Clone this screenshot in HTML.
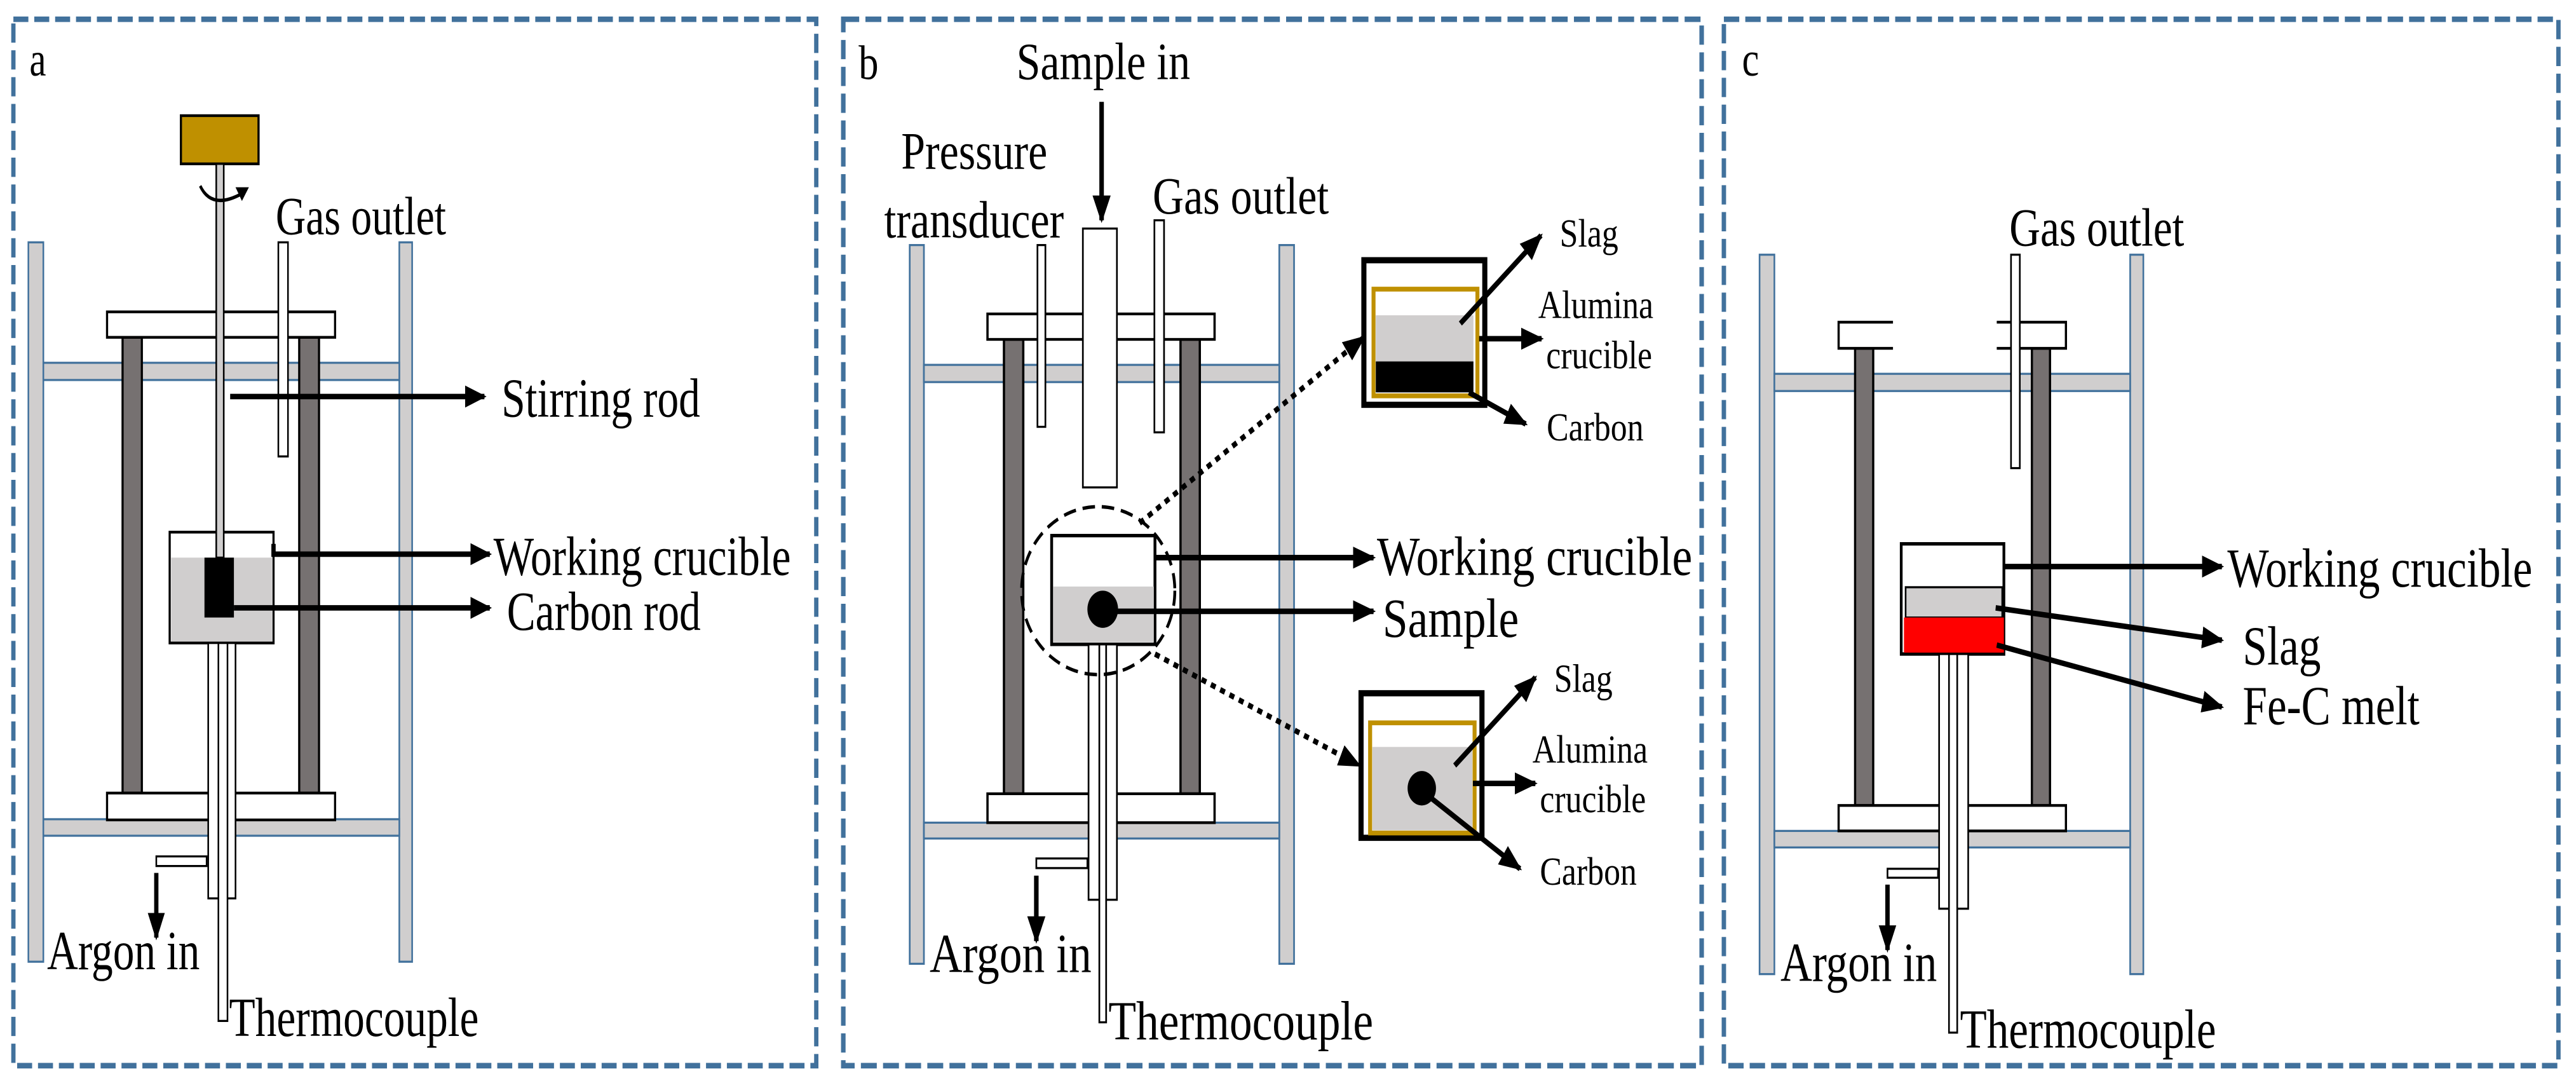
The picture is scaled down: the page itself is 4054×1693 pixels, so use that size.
<!DOCTYPE html>
<html><head><meta charset="utf-8"><style>
html,body{margin:0;padding:0;background:#fff;width:4054px;height:1693px;overflow:hidden}
svg{position:absolute;top:0;height:1693px}
text{font-family:"Liberation Serif",serif;fill:#000}
</style></head><body>

<!-- Panel a -->
<svg style="left:0;width:1320px" viewBox="0 0 1567 1563" preserveAspectRatio="none">
<defs><marker id="a1" markerUnits="userSpaceOnUse" markerWidth="40" markerHeight="40" refX="36" refY="20" orient="auto"><path d="M0,4 L40,20 L0,36 Z" fill="#000"/></marker></defs>
<rect x="25" y="28" width="1500" height="1520" fill="none" stroke="#41719c" stroke-width="8" stroke-dasharray="28,11"/>
<text x="55" y="110" font-size="70">a</text>
<rect x="53" y="352" width="28" height="1045" fill="#d0cece" stroke="#41719c" stroke-width="3"/>
<rect x="746" y="352" width="24" height="1045" fill="#d0cece" stroke="#41719c" stroke-width="3"/>
<rect x="81" y="527" width="665" height="25" fill="#d0cece" stroke="#41719c" stroke-width="3"/>
<rect x="81" y="1190" width="665" height="24" fill="#d0cece" stroke="#41719c" stroke-width="3"/>
<rect x="229" y="490" width="36" height="662" fill="#767171" stroke="#000" stroke-width="4"/>
<rect x="559" y="490" width="37" height="662" fill="#767171" stroke="#000" stroke-width="4"/>
<rect x="200" y="453" width="426" height="37" fill="#fff" stroke="#000" stroke-width="4"/>
<rect x="200" y="1152" width="426" height="39" fill="#fff" stroke="#000" stroke-width="4"/>
<rect x="520" y="352" width="18" height="311" fill="#fff" stroke="#000" stroke-width="3"/>
<rect x="338" y="168" width="145" height="70" fill="#bf9000" stroke="#000" stroke-width="4"/>
<rect x="317" y="773" width="194" height="161" fill="#fff" stroke="#000" stroke-width="4"/>
<rect x="320" y="810" width="188" height="122" fill="#d0cece"/>
<rect x="404" y="238" width="14" height="572" fill="#d0cece" stroke="#000" stroke-width="3"/>
<rect x="382" y="810" width="55" height="87" fill="#000"/>
<rect x="389" y="934" width="51" height="371" fill="#fff" stroke="#000" stroke-width="3"/>
<rect x="408" y="934" width="17" height="549" fill="#fff" stroke="#000" stroke-width="3"/>
<rect x="292" y="1244" width="94" height="14" fill="#fff" stroke="#000" stroke-width="3"/>
<path d="M374,270 Q395,305 450,282" fill="none" stroke="#000" stroke-width="5"/>
<path d="M440,272 L465,272 L452,292 Z" fill="#000"/>
<line x1="292" y1="1268" x2="292" y2="1362" stroke="#000" stroke-width="8" marker-end="url(#a1)"/>
<line x1="430" y1="576" x2="905" y2="576" stroke="#000" stroke-width="8" marker-end="url(#a1)"/>
<polyline points="511,790 511,805 915,805" fill="none" stroke="#000" stroke-width="8" marker-end="url(#a1)"/>
<line x1="437" y1="883" x2="915" y2="883" stroke="#000" stroke-width="8" marker-end="url(#a1)"/>
<text x="515" y="340" font-size="78">Gas outlet</text>
<text x="937" y="605" font-size="80">Stirring rod</text>
<text x="922" y="835" font-size="80">Working crucible</text>
<text x="947" y="915" font-size="80">Carbon rod</text>
<text x="88" y="1408" font-size="80">Argon in</text>
<text x="428" y="1505" font-size="80">Thermocouple</text>
</svg>

<!-- Panel b -->
<svg style="left:1320px;width:1400px" viewBox="0 0 1567 1563" preserveAspectRatio="none">
<defs><marker id="b1" markerUnits="userSpaceOnUse" markerWidth="40" markerHeight="40" refX="36" refY="20" orient="auto"><path d="M0,4 L40,20 L0,36 Z" fill="#000"/></marker></defs>
<rect x="8" y="28" width="1512" height="1520" fill="none" stroke="#41719c" stroke-width="8" stroke-dasharray="28,11"/>
<text x="35" y="115" font-size="70">b</text>
<rect x="125" y="356" width="25" height="1044" fill="#d0cece" stroke="#41719c" stroke-width="3"/>
<rect x="776" y="356" width="26" height="1044" fill="#d0cece" stroke="#41719c" stroke-width="3"/>
<rect x="150" y="530" width="626" height="25" fill="#d0cece" stroke="#41719c" stroke-width="3"/>
<rect x="150" y="1195" width="626" height="23" fill="#d0cece" stroke="#41719c" stroke-width="3"/>
<rect x="291" y="493" width="34" height="660" fill="#767171" stroke="#000" stroke-width="4"/>
<rect x="602" y="493" width="34" height="660" fill="#767171" stroke="#000" stroke-width="4"/>
<rect x="262" y="456" width="400" height="37" fill="#fff" stroke="#000" stroke-width="4"/>
<rect x="262" y="1153" width="400" height="42" fill="#fff" stroke="#000" stroke-width="4"/>
<rect x="350" y="356" width="14" height="264" fill="#fff" stroke="#000" stroke-width="3"/>
<rect x="430" y="332" width="60" height="376" fill="#fff" stroke="#000" stroke-width="3"/>
<rect x="556" y="320" width="17" height="308" fill="#fff" stroke="#000" stroke-width="3"/>
<rect x="375" y="778" width="182" height="158" fill="#fff" stroke="#000" stroke-width="5"/>
<rect x="378" y="852" width="177" height="81" fill="#d0cece"/>
<circle cx="465" cy="885" r="27" fill="#000"/>
<rect x="440" y="936" width="50" height="371" fill="#fff" stroke="#000" stroke-width="3"/>
<rect x="459" y="936" width="12" height="549" fill="#fff" stroke="#000" stroke-width="3"/>
<rect x="348" y="1247" width="90" height="14" fill="#fff" stroke="#000" stroke-width="3"/>
<ellipse cx="457" cy="858" rx="135" ry="122" fill="none" stroke="#000" stroke-width="5" stroke-dasharray="22,12"/>
<line x1="348" y1="1272" x2="348" y2="1367" stroke="#000" stroke-width="8" marker-end="url(#b1)"/>
<line x1="463" y1="148" x2="463" y2="320" stroke="#000" stroke-width="8" marker-end="url(#b1)"/>
<line x1="557" y1="810" x2="942" y2="810" stroke="#000" stroke-width="8" marker-end="url(#b1)"/>
<line x1="465" y1="888" x2="942" y2="888" stroke="#000" stroke-width="8" marker-end="url(#b1)"/>
<line x1="530" y1="760" x2="925" y2="490" stroke="#000" stroke-width="8" stroke-dasharray="9,9" marker-end="url(#b1)"/>
<line x1="557" y1="950" x2="917" y2="1112" stroke="#000" stroke-width="8" stroke-dasharray="9,9" marker-end="url(#b1)"/>
<rect x="925" y="378" width="213" height="210" fill="#fff" stroke="#000" stroke-width="9"/>
<rect x="942" y="420" width="183" height="155" fill="#fff" stroke="#bf9000" stroke-width="7"/>
<rect x="946" y="458" width="172" height="67" fill="#d0cece"/>
<rect x="946" y="525" width="172" height="45" fill="#000"/>
<line x1="1095" y1="470" x2="1237" y2="342" stroke="#000" stroke-width="8" marker-end="url(#b1)"/>
<line x1="1128" y1="492" x2="1238" y2="492" stroke="#000" stroke-width="8" marker-end="url(#b1)"/>
<line x1="1110" y1="570" x2="1210" y2="616" stroke="#000" stroke-width="8" marker-end="url(#b1)"/>
<text x="1270" y="358" font-size="58">Slag</text>
<text x="1232" y="462" font-size="58">Alumina</text>
<text x="1246" y="535" font-size="58">crucible</text>
<text x="1247" y="640" font-size="58">Carbon</text>
<rect x="920" y="1007" width="213" height="210" fill="#fff" stroke="#000" stroke-width="9"/>
<rect x="936" y="1050" width="184" height="160" fill="#fff" stroke="#bf9000" stroke-width="7"/>
<rect x="940" y="1085" width="176" height="121" fill="#d0cece"/>
<circle cx="1027" cy="1145" r="25" fill="#000"/>
<line x1="1085" y1="1112" x2="1227" y2="984" stroke="#000" stroke-width="8" marker-end="url(#b1)"/>
<line x1="1117" y1="1138" x2="1227" y2="1138" stroke="#000" stroke-width="8" marker-end="url(#b1)"/>
<line x1="1040" y1="1157" x2="1200" y2="1262" stroke="#000" stroke-width="8" marker-end="url(#b1)"/>
<text x="1260" y="1005" font-size="58">Slag</text>
<text x="1222" y="1108" font-size="58">Alumina</text>
<text x="1235" y="1180" font-size="58">crucible</text>
<text x="1235" y="1285" font-size="58">Carbon</text>
<text x="313" y="115" font-size="76">Sample in</text>
<text x="110" y="245" font-size="76">Pressure</text>
<text x="80" y="345" font-size="76">transducer</text>
<text x="553" y="310" font-size="76">Gas outlet</text>
<text x="948" y="835" font-size="80">Working crucible</text>
<text x="958" y="925" font-size="80">Sample</text>
<text x="160" y="1412" font-size="80">Argon in</text>
<text x="475" y="1510" font-size="80">Thermocouple</text>
</svg>

<!-- Panel c -->
<svg style="left:2700px;width:1354px" viewBox="0 0 1567 1563" preserveAspectRatio="none">
<defs><marker id="c1" markerUnits="userSpaceOnUse" markerWidth="40" markerHeight="40" refX="36" refY="20" orient="auto"><path d="M0,4 L40,20 L0,36 Z" fill="#000"/></marker></defs>
<rect x="15" y="28" width="1520" height="1520" fill="none" stroke="#41719c" stroke-width="8" stroke-dasharray="28,11"/>
<text x="48" y="110" font-size="70">c</text>
<rect x="80" y="370" width="27" height="1045" fill="#d0cece" stroke="#41719c" stroke-width="3"/>
<rect x="755" y="370" width="24" height="1045" fill="#d0cece" stroke="#41719c" stroke-width="3"/>
<rect x="107" y="543" width="648" height="25" fill="#d0cece" stroke="#41719c" stroke-width="3"/>
<rect x="107" y="1207" width="648" height="24" fill="#d0cece" stroke="#41719c" stroke-width="3"/>
<rect x="254" y="506" width="33" height="664" fill="#767171" stroke="#000" stroke-width="4"/>
<rect x="576" y="506" width="33" height="664" fill="#767171" stroke="#000" stroke-width="4"/>
<path d="M323,468 L224,468 L224,506 L323,506" fill="#fff" stroke="#000" stroke-width="4"/>
<path d="M512,468 L638,468 L638,506 L512,506" fill="#fff" stroke="#000" stroke-width="4"/>
<rect x="538" y="370" width="16" height="310" fill="#fff" stroke="#000" stroke-width="3"/>
<rect x="224" y="1170" width="414" height="37" fill="#fff" stroke="#000" stroke-width="4"/>
<rect x="338" y="790" width="187" height="160" fill="#fff" stroke="#000" stroke-width="5"/>
<rect x="346" y="853" width="176" height="44" fill="#d0cece" stroke="#000" stroke-width="3"/>
<rect x="343" y="897" width="182" height="51" fill="#ff0000"/>
<rect x="407" y="950" width="53" height="370" fill="#fff" stroke="#000" stroke-width="3"/>
<rect x="425" y="950" width="15" height="550" fill="#fff" stroke="#000" stroke-width="3"/>
<rect x="313" y="1262" width="92" height="13" fill="#fff" stroke="#000" stroke-width="3"/>
<line x1="313" y1="1285" x2="313" y2="1380" stroke="#000" stroke-width="8" marker-end="url(#c1)"/>
<line x1="525" y1="823" x2="922" y2="823" stroke="#000" stroke-width="8" marker-end="url(#c1)"/>
<line x1="510" y1="883" x2="922" y2="930" stroke="#000" stroke-width="8" marker-end="url(#c1)"/>
<line x1="512" y1="937" x2="922" y2="1027" stroke="#000" stroke-width="8" marker-end="url(#c1)"/>
<text x="535" y="357" font-size="78">Gas outlet</text>
<text x="932" y="852" font-size="80">Working crucible</text>
<text x="960" y="965" font-size="80">Slag</text>
<text x="960" y="1052" font-size="80">Fe-C melt</text>
<text x="118" y="1425" font-size="80">Argon in</text>
<text x="445" y="1522" font-size="80">Thermocouple</text>
</svg>
</body></html>
